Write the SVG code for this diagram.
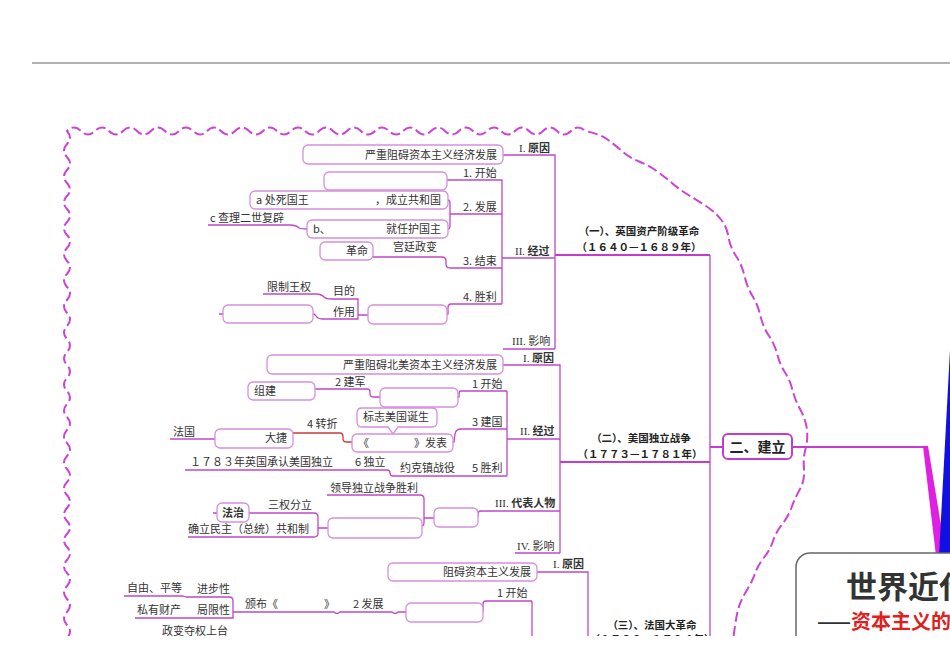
<svg xmlns="http://www.w3.org/2000/svg" width="950" height="672" viewBox="0 0 950 672">
<defs>
<style>
.t{font-family:"Noto Sans CJK SC","Noto Sans",sans-serif;font-size:11px;fill:#333}
.b{font-weight:bold}
.r{font-family:"Liberation Serif","Noto Sans CJK SC",serif}
.box{fill:#fff;stroke:#d68fe0;stroke-width:1.3}
.ln{fill:none;stroke:#bf48c8;stroke-width:1.3}
.mn{fill:none;stroke:#c43ccf;stroke-width:2}
.hd{font-family:"Noto Sans CJK SC","Noto Sans",sans-serif;font-size:10.5px;font-weight:bold;fill:#222;text-anchor:middle}
</style>
<clipPath id="cp"><rect x="0" y="0" width="950" height="636"/></clipPath>
</defs>
<rect x="0" y="0" width="950" height="672" fill="#fff"/>
<line x1="32" y1="63" x2="950" y2="63" stroke="#999" stroke-width="1.5"/>
<g clip-path="url(#cp)">
<path id="border" fill="none" stroke="#cc44d6" stroke-width="2" stroke-dasharray="10 4" d="M67,638 Q73,631.5 67,625 T67,612 T67,599 T67,586 T67,573 T67,560 T67,547 T67,534 T67,521 T67,508 T67,495 T67,482 T67,469 T67,456 T67,443 T67,430 T67,417 T67,404 T67,391 T67,378 T67,365 T67,352 T67,339 T67,326 T67,313 T67,300 T67,287 T67,274 T67,261 T67,248 T67,235 T67,222 T67,209 T67,196 T67,183 T67,170 T67,157 T67,144 T67,131 Q74,124 81,131 T95,131 T109,131 T123,131 T137,131 T151,131 T165,131 T179,131 T193,131 T207,131 T221,131 T235,131 T249,131 T263,131 T277,131 T291,131 T305,131 T319,131 T333,131 T347,131 T361,131 T375,131 T389,131 T403,131 T417,131 T431,131 T445,131 T459,131 T473,131 T487,131 T501,131 T515,131 T529,131 T543,131 T557,131 T571,131 T585,131 Q600,134 607.5,139.5 Q615,145 622.5,151.5 Q630,158 639,161.5 Q648,165 656.5,171 Q665,177 672.5,183.5 Q680,190 688.5,195 Q697,200 706,206 Q715,212 721,219.5 Q727,227 728.5,237 Q730,247 736,256 Q742,265 744.5,276 Q747,287 752.5,296 Q758,305 760.5,316 Q763,327 769,336 Q775,345 777.5,355 Q780,365 785,372.5 Q790,380 792.5,390 Q795,400 800.5,410 Q806,420 807,430 Q808,440 805.5,449 Q803,458 804,469 Q805,480 800,489 Q795,498 791.5,507.5 Q788,517 782,524.5 Q776,532 773,541 Q770,550 764,557.5 Q758,565 755,573.5 Q752,582 747,590 Q742,598 739.5,605 Q737,612 735,626 L733,640"/>

<g id="connectors">
<line class="ln" x1="710" y1="255" x2="710" y2="640" stroke-width="1.6"/>
<path class="mn" d="M555,255 L710,255"/>
<path class="mn" d="M560,462 L710,462"/>
<path class="mn" d="M710,447 L723,447"/>
<path class="mn" d="M792,447 L926,447" stroke-width="2.5"/>
<polygon points="923,446 928,446 946,556 936,556" fill="#e020e0"/>
<polygon points="939,556 950,556 950,350" fill="#1010e0"/>
<path class="ln" d="M503,155 L555,155 L555,349 M503,349 L555,349 M502,258 L555,258"/>
<path class="ln" d="M447,180 L502,180 L502,304"/>
<path class="ln" d="M448,200 Q450,200 450,204 L450,225 Q450,229 448,229 M450,214 L502,214"/>
<path class="ln" d="M208,225 L290,225 Q296,225 299,228 Q301,229 307,229"/>
<path class="ln" d="M502,268 L450,268 Q446,268 446,264 L446,261 Q446,257 442,257 L373,257"/>
<path class="ln" d="M502,304 L451,304 Q448,304 448,308 L448,314 L447,314"/>
<path class="ln" d="M263,294 L316,294 Q321,294 324,297 Q326,299 331,299 L358,299 L358,319 L322,319 Q318,319 316,316 Q315,314 313,314 M358,315 L368,315 M219,314 L223,314"/>
<path class="ln" d="M503,365 L560,365 L560,553 M515,553 L560,553 M507,439 L560,439"/>
<path class="ln" d="M507,391 L507,476"/>
<path class="ln" d="M507,391 L461,391 Q459,391 459,394 L459,397 L458,397"/>
<path class="ln" d="M315,389 L367,389 Q370,389 370,392 L370,394 Q370,397 374,397 L380,397"/>
<path class="ln" d="M507,429 L461,429 Q456,429 455,434 L454,442 L453,442"/>
<path d="M293,433 L340,433 Q343,433 343,437 L343,439 Q343,442 347,442 L352,442" fill="none" stroke="#c83a3a" stroke-width="1.3"/>
<path class="ln" d="M170,439 L215,439"/>
<path class="ln" d="M507,476 L393,476 Q390,476 390,473 Q390,470 387,470 L185,470"/>
<path class="ln" d="M560,511 L481,511 Q478,511 478,514 L478,517"/>
<path class="ln" d="M327,495 L420,495 Q424,495 424,499 L424,522 Q424,526 422,526 M424,518 L434,518"/>
<path class="ln" d="M249,513 L314,513 Q318,513 318,517 L318,533 Q318,537 314,537 L188,537 M318,528 L328,528 M213,513 L217,513"/>
<path class="ln" d="M537,572 L588,572 L588,640"/>
<path class="ln" d="M532,601 L532,640 M532,601 L486,601 Q483,601 483,604 L483,612"/>
<path class="ln" d="M233,612 L334,612 Q337,615 340,612 L392,612 Q395,615 398,612 L406,612"/>
<path class="ln" d="M124,596 L183,596 Q185,597 187,597 L229,597 Q233,597 233,601 L233,618 L135,618"/>
</g>

<g id="n-title">
<rect x="796" y="553" width="220" height="130" rx="14" fill="#fff" stroke="#666" stroke-width="1.5"/>
<text x="846" y="598" font-family="'Noto Sans CJK SC','Noto Sans',sans-serif" font-size="31" font-weight="bold" fill="#333">世界近代</text>
<text x="817" y="629" font-family="'Noto Sans CJK SC','Noto Sans',sans-serif" font-size="20" font-weight="bold" fill="#333">——<tspan fill="#e02020">资本主义的</tspan></text>
</g>

<g id="n-jianli">
<rect x="723" y="434" width="69" height="25" rx="5" fill="#fff" stroke="#c43ccf" stroke-width="2"/>
<text x="757.5" y="452" class="hd" style="font-size:14px">二、建立</text>
</g>

<g id="n-eng">
<text class="hd" x="639" y="235">（一）、英国资产阶级革命</text>
<text class="hd" x="639" y="251">（１６４０—１６８９年）</text>
</g>
<g id="n-us">
<text class="hd" x="641" y="442">（二）、美国独立战争</text>
<text class="hd" x="640" y="458">（１７７３—１７８１年）</text>
</g>
<g id="n-fr">
<text class="hd" x="652" y="629">（三）、法国大革命</text>
<text class="hd" x="652" y="643">（１７８９—１７９４年）</text>
</g>

<g id="e-yuanyin"><text class="t" x="519" y="152"><tspan class="r">I.</tspan> <tspan class="b">原因</tspan></text></g>
<g id="e-yuanyin-box"><rect class="box" x="303" y="145" width="200" height="19" rx="5"/><text class="t" x="497" y="159" text-anchor="end">严重阻碍资本主义经济发展</text></g>
<g id="e-jingguo"><text class="t" x="515" y="255"><tspan class="r">II.</tspan> <tspan class="b">经过</tspan></text></g>
<g id="e-kaishi"><text class="t" x="463" y="177">1. 开始</text><rect class="box" x="324" y="172" width="123" height="18" rx="5"/></g>
<g id="e-fazhan"><text class="t" x="463" y="211">2. 发展</text></g>
<g id="e-a"><rect class="box" x="250" y="191" width="198" height="18" rx="5"/><text class="t" x="256" y="204">a 处死国王</text><text class="t" x="441" y="204" text-anchor="end">，成立共和国</text></g>
<g id="e-b"><rect class="box" x="307" y="220" width="141" height="18" rx="5"/><text class="t" x="313" y="233">b、</text><text class="t" x="441" y="233" text-anchor="end">就任护国主</text></g>
<g id="e-c"><text class="t" x="210" y="222">c 查理二世复辟</text></g>
<g id="e-jieshu"><text class="t" x="463" y="265">3. 结束</text></g>
<g id="e-gongting"><text class="t" x="393" y="251">宫廷政变</text></g>
<g id="e-geming"><rect class="box" x="320" y="242" width="53" height="18" rx="5"/><text class="t" x="368" y="255" text-anchor="end">革命</text></g>
<g id="e-shengli"><text class="t" x="463" y="301">4. 胜利</text><rect class="box" x="368" y="305" width="79" height="19" rx="5"/></g>
<g id="e-mudi"><text class="t" x="333" y="295">目的</text><text class="t" x="267" y="291">限制王权</text></g>
<g id="e-zuoyong"><text class="t" x="333" y="316">作用</text><rect class="box" x="223" y="305" width="90" height="18" rx="5"/></g>
<g id="e-yingxiang"><text class="t" x="512" y="345"><tspan class="r">III.</tspan> 影响</text></g>

<g id="a-yuanyin"><text class="t" x="523" y="362"><tspan class="r">I.</tspan> <tspan class="b">原因</tspan></text><rect class="box" x="267" y="355" width="236" height="19" rx="5"/><text class="t" x="497" y="369" text-anchor="end">严重阻碍北美资本主义经济发展</text></g>
<g id="a-jingguo"><text class="t" x="520" y="435"><tspan class="r">II.</tspan> <tspan class="b">经过</tspan></text></g>
<g id="a-kaishi"><text class="t" x="472" y="388">1 开始</text><rect class="box" x="380" y="388" width="78" height="19" rx="5"/></g>
<g id="a-jianjun"><text class="t" x="335" y="386">2 建军</text><rect class="box" x="248" y="382" width="67" height="18" rx="5"/><text class="t" x="254" y="395">组建</text></g>
<g id="a-jianguo"><text class="t" x="472" y="426">3 建国</text><rect class="box" x="352" y="434" width="101" height="18" rx="5"/><text class="t" x="358" y="447">《</text><text class="t" x="447" y="447" text-anchor="end">》发表</text></g>
<g id="a-biaozhi"><path class="box" d="M362,408 L432,408 Q437,408 437,413 L437,422 Q437,427 432,427 L398,427 L393,434 L388,427 L362,427 Q357,427 357,422 L357,413 Q357,408 362,408 Z"/><text class="t" x="363" y="421">标志美国诞生</text></g>
<g id="a-zhuanzhe"><text class="t" x="307" y="428">4 转折</text><rect class="box" x="215" y="429" width="78" height="19" rx="5"/><text class="t" x="287" y="442" text-anchor="end">大捷</text><text class="t" x="173" y="436">法国</text></g>
<g id="a-shengli"><text class="t" x="472" y="472">5 胜利</text><text class="t" x="400" y="472">约克镇战役</text></g>
<g id="a-duli"><text class="t" x="355" y="466">6 独立</text><text class="t" x="190" y="466">１７８３年英国承认美国独立</text></g>
<g id="a-daibiao"><text class="t" x="495" y="507"><tspan class="r">III.</tspan> <tspan class="b">代表人物</tspan></text><rect class="box" x="434" y="508" width="44" height="19" rx="5"/></g>
<g id="a-lingdao"><text class="t" x="330" y="492">领导独立战争胜利</text><rect class="box" x="328" y="518" width="94" height="20" rx="5"/></g>
<g id="a-sanquan"><text class="t" x="268" y="509">三权分立</text><rect class="box" x="217" y="503" width="32" height="19" rx="5"/><text class="t b" x="222" y="517">法治</text><text class="t" x="188" y="533">确立民主（总统）共和制</text></g>
<g id="a-yingxiang"><text class="t" x="517" y="550"><tspan class="r">IV.</tspan> 影响</text></g>

<g id="f-yuanyin"><text class="t" x="553" y="568"><tspan class="r">I.</tspan> <tspan class="b">原因</tspan></text><rect class="box" x="388" y="563" width="149" height="18" rx="5"/><text class="t" x="531" y="576" text-anchor="end">阻碍资本主义发展</text></g>
<g id="f-kaishi"><text class="t" x="497" y="597">1 开始</text><rect class="box" x="406" y="603" width="77" height="19" rx="5"/></g>
<g id="f-fazhan"><text class="t" x="353" y="608">2 发展</text><text class="t" x="245" y="608">颁布《</text><text class="t" x="324" y="608">》</text></g>
<g id="f-jinbu"><text class="t" x="197" y="593">进步性</text><text class="t" x="127" y="592">自由、平等</text></g>
<g id="f-juxian"><text class="t" x="197" y="614">局限性</text><text class="t" x="137" y="614">私有财产</text></g>
<g id="f-zhengbian"><text class="t" x="162" y="635">政变夺权上台</text></g>
</g>
</svg>
